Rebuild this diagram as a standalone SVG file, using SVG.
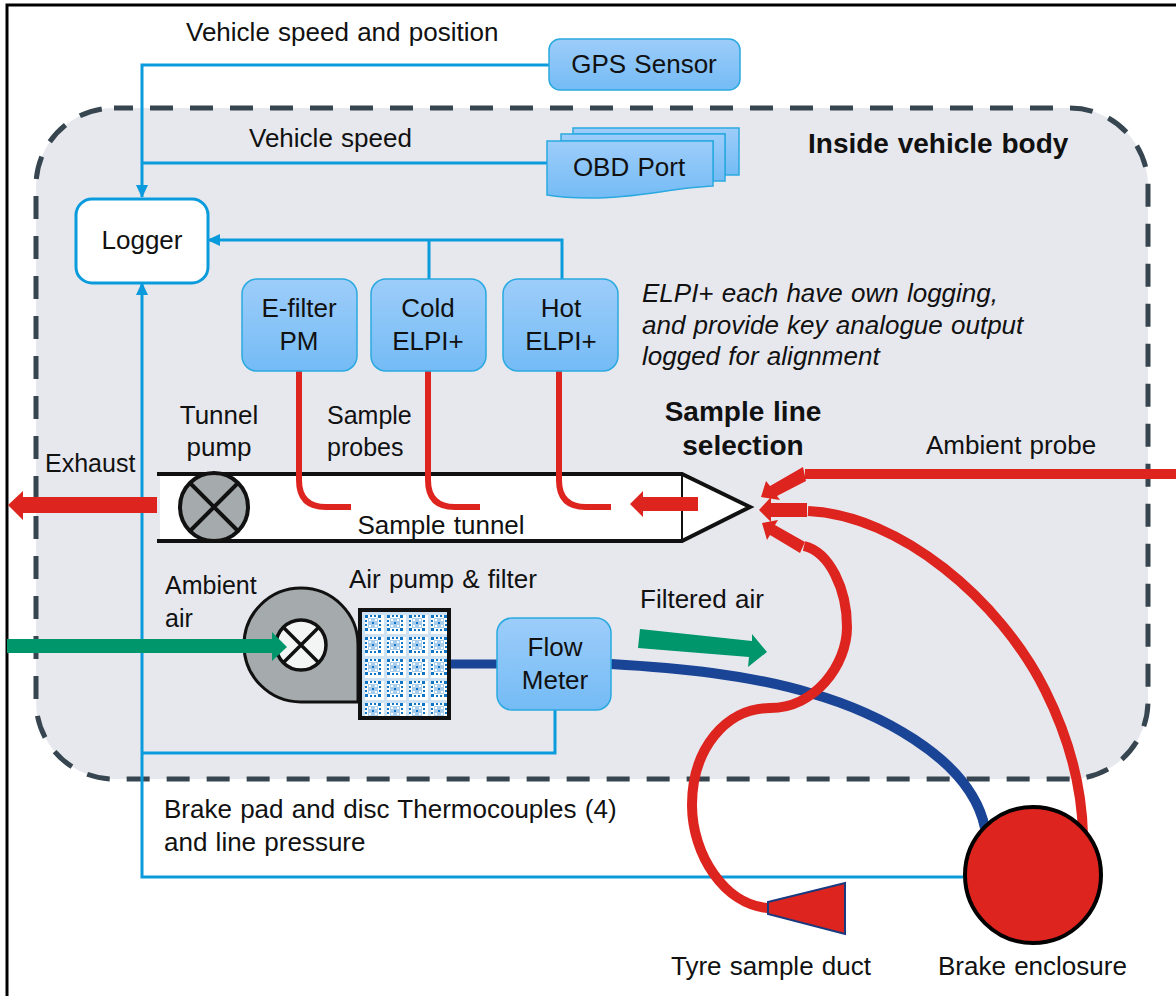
<svg xmlns="http://www.w3.org/2000/svg" width="1176" height="996" viewBox="0 0 1176 996">
<defs>
<linearGradient id="blue" x1="0" y1="0" x2="0" y2="1"><stop offset="0" stop-color="#9dcdfa"/><stop offset="1" stop-color="#74bbf5"/></linearGradient>
<pattern id="mesh" width="22" height="22" patternUnits="userSpaceOnUse" x="362" y="612">
<rect width="22" height="22" fill="#ffffff"/>
<rect x="6" y="6" width="10" height="10" fill="#a9cdec"/>
<rect x="0" y="0" width="3" height="22" fill="#cfe2f3"/>
<rect x="0" y="0" width="22" height="3" fill="#cfe2f3"/>
<path d="M3 3h3v3h-3zM8 3h2v2h-2zM12 3h2v2h-2zM16 3h3v3h-3zM3 8h2v2h-2zM3 12h2v2h-2zM17 8h2v2h-2zM17 12h2v2h-2zM3 16h3v3h-3zM8 17h2v2h-2zM12 17h2v2h-2zM16 16h3v3h-3zM10 10h2v2h-2z" fill="#0f74c4"/>
<path d="M7 7h2v2h-2zM13 7h2v2h-2zM7 13h2v2h-2zM13 13h2v2h-2z" fill="#ffffff"/>
</pattern>
<marker id="sig" markerWidth="14" markerHeight="12" refX="12" refY="6" orient="auto" markerUnits="userSpaceOnUse"><path d="M0 0L13 6L0 12Z" fill="#0a9bdc"/></marker>
</defs>
<style>
text{font-family:"Liberation Sans",Arial,sans-serif;font-size:26px;word-spacing:1px;fill:#111}
.c{text-anchor:middle}
.b{font-weight:700;font-size:28px}
.i{font-style:italic}
.n{font-size:25px}
.sig{fill:none;stroke:#0a9bdc;stroke-width:3}
.box{fill:url(#blue);stroke:#2aa9e0;stroke-width:1.500}
.red{fill:none;stroke:#de241e}
.fat{fill:#de241e}
.grn{fill:#00966c}
</style>
<rect width="1176" height="996" fill="#fff"/>
<path d="M7 996V5H1176" stroke="#000" stroke-width="3" fill="none"/>
<g id="vehicle-body">
<rect x="36" y="108" width="1112" height="671" rx="78" fill="#e7e8ee" stroke="#36454f" stroke-width="5" stroke-dasharray="23 17" stroke-dashoffset="4"/>
</g>
<g id="connectors">
<path class="sig" d="M549 65H142V197" marker-end="url(#sig)"/>
<path class="sig" d="M549 163H142"/>
<path class="sig" d="M562 279V240H208" marker-end="url(#sig)"/>
<path class="sig" d="M429 279V240"/>
<path class="sig" d="M963 877H142V283" marker-end="url(#sig)"/>
<path class="sig" d="M555 710V753H142"/>
<path fill="none" stroke="#1a4496" stroke-width="9" d="M450 664H497"/>
<path fill="none" stroke="#1a4496" stroke-width="10" d="M611 664C680 668 750 675 810 693C870 710 970 755 985 828"/>
<path class="red" stroke-width="10" d="M1176 474H805"/>
<path class="red" stroke-width="10" d="M808 511C900 515 1000 600 1045 690C1070 740 1082 790 1083 835"/>
<path class="red" stroke-width="10" d="M804 546C830 552 847 590 847 627C847 665 815 708 770 708C725 708 692 750 692 805C692 855 725 905 768 908"/>
</g>
<g id="sample-tunnel">
<path d="M160 474H682L750 507L682 541H160Z" fill="#fff"/>
<path d="M157 474H682L750 507L682 541H157" fill="none" stroke="#111" stroke-width="4"/>
<path d="M682 474V541" stroke="#111" stroke-width="2"/>
<text class="c" x="441" y="534">Sample tunnel</text>
</g>
<g id="tunnel-pump">
<circle cx="214" cy="507" r="34" fill="#a5abad" stroke="#111" stroke-width="4"/>
<path d="M190 483L238 531M238 483L190 531" stroke="#111" stroke-width="4"/>
</g>
<g id="probes">
<path class="red" stroke-width="6" d="M299 371V480Q299 507 326 507H351"/>
<path class="red" stroke-width="6" d="M428 371V480Q428 507 455 507H480"/>
<path class="red" stroke-width="6" d="M559 371V480Q559 507 586 507H611"/>
</g>
<g id="air-pump">
<path d="M358 702H301A57 57 0 1 1 358 645Z" fill="#a5abad" stroke="#111" stroke-width="3"/>
<circle cx="301" cy="645" r="25" fill="#f3f4f4" stroke="#111" stroke-width="3.500"/>
<path d="M284 628L318 662M318 628L284 662" stroke="#111" stroke-width="3.500"/>
</g>
<g id="arrows">
<path class="fat" d="M157 497H23V491L8 505L23 520V513H157Z"/>
<path class="fat" d="M698 497H643V491L630 504L643 517V511H698Z"/>
<path class="fat" d="M803 467L770 486L766 481L761 497L780 500L777 496L806 481Z"/>
<path class="fat" d="M807 503H771V497L759 510L771 522V517H807Z"/>
<path class="fat" d="M762 523L778 520L775 525L805 542L800 553L770 535L767 540Z"/>
<path class="grn" d="M7 639H272V632L287 647L272 661V653H7Z"/>
<path class="grn" d="M640 629L752 641V634L767 652L748 667L749 657L638 648Z"/>
</g>
<g id="filter"><rect x="360" y="610" width="89" height="108" fill="url(#mesh)" stroke="#111" stroke-width="4"/></g>
<g id="logger"><rect x="76" y="199" width="132" height="84" rx="16" fill="#fff" stroke="#0a9bdc" stroke-width="3"/><text class="c" x="142" y="249">Logger</text></g>
<g id="gps"><rect x="549" y="39" width="191" height="51" rx="11" class="box"/><text class="c" x="644" y="73">GPS Sensor</text></g>
<g id="obd">
<path class="box" d="M573 134V128H739V175H725V134Z"/>
<path class="box" d="M561 141V134H725V181H713V141Z"/>
<path class="box" d="M547 141H713V186C670 188 640 198 590 198C570 198 558 197 547 195Z"/>
<text class="c" x="629" y="176">OBD Port</text>
</g>
<g id="efilter"><rect x="242" y="279" width="115" height="92" rx="15" class="box"/><text class="c" x="299" y="317">E-filter</text><text class="c" x="299" y="350">PM</text></g>
<g id="cold"><rect x="371" y="279" width="115" height="92" rx="15" class="box"/><text class="c" x="428" y="317">Cold</text><text class="c" x="428" y="350">ELPI+</text></g>
<g id="hot"><rect x="503" y="279" width="115" height="92" rx="15" class="box"/><text class="c" x="561" y="317">Hot</text><text class="c" x="561" y="350">ELPI+</text></g>
<g id="flow"><rect x="497" y="618" width="114" height="92" rx="15" class="box"/><text class="c" x="555" y="656">Flow</text><text class="c" x="555" y="689">Meter</text></g>
<g id="brake"><circle cx="1033" cy="875" r="68" fill="#de241e" stroke="#000" stroke-width="4"/></g>
<g id="tyre-duct"><path d="M768 902L845 883V934L768 914Z" fill="#de241e" stroke="#1a3a80" stroke-width="2"/></g>
<g id="labels">
<text x="186" y="41">Vehicle speed and position</text>
<text x="249" y="147">Vehicle speed</text>
<text class="b" x="808" y="153">Inside vehicle body</text>
<text class="i" x="642" y="302">ELPI+ each have own logging,</text>
<text class="i" x="642" y="334">and provide key analogue output</text>
<text class="i" x="642" y="365">logged for alignment</text>
<text class="c" x="219" y="424">Tunnel</text><text class="c" x="219" y="456">pump</text>
<text class="n" x="327" y="424">Sample</text><text class="n" x="327" y="456">probes</text>
<text class="n" x="45" y="472">Exhaust</text>
<text class="c b" x="743" y="421">Sample line</text>
<text class="c b" x="743" y="455">selection</text>
<text x="926" y="454">Ambient probe</text>
<text class="n" x="165" y="594">Ambient</text><text class="n" x="165" y="627">air</text>
<text x="349" y="588">Air pump &amp; filter</text>
<text x="640" y="608">Filtered air</text>
<text x="164" y="818">Brake pad and disc Thermocouples (4)</text>
<text x="164" y="851">and line pressure</text>
<text x="671" y="975">Tyre sample duct</text>
<text x="938" y="975">Brake enclosure</text>
</g>
</svg>
